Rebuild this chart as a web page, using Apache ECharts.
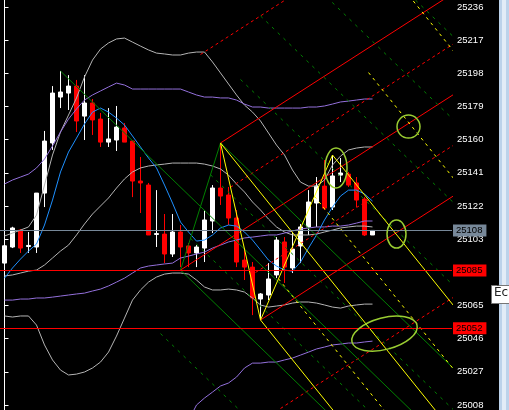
<!DOCTYPE html>
<html><head><meta charset="utf-8">
<script src="https://cdn.jsdelivr.net/npm/echarts@6/dist/echarts.min.js"></script>
<style>html,body{margin:0;padding:0;background:#000;overflow:hidden}#c{width:509px;height:410px}</style>
</head><body><div id="c"></div>
<script>
// ---- data (bar index, prices) ----
const barIndex = [0,1,2,3,4,5,6,7,8,9,10,11,12,13,14,15,16,17,18,19,20,21,22,23,24,25,26,27,28,29,30,31,32,33,34,35,36,37,38,39,40,41,42,43,44,45,46];
const openP = [25089.3,25098.5,25108.2,25098.8,25098.5,25129.4,25158.1,25184.4,25186.7,25190.7,25173.5,25181.0,25171.8,25158.6,25159.8,25166.7,25159.2,25136.3,25134.0,25105.7,25105.9,25094.5,25107.1,25099.1,25095.1,25097.9,25113.4,25132.3,25128.3,25115.1,25091.0,25087.0,25068.7,25071.0,25082.5,25101.4,25086.5,25099.1,25110.0,25123.7,25133.4,25121.4,25139.7,25140.3,25135.2,25126.0,25105.4];
const closeP = [25099.2,25109.4,25097.9,25099.4,25129.4,25159.2,25186.7,25187.3,25190.7,25170.7,25181.0,25171.3,25158.6,25160.4,25167.2,25158.6,25136.3,25135.2,25105.4,25106.2,25094.5,25107.1,25098.5,25095.1,25098.5,25114.0,25132.3,25127.7,25115.1,25089.9,25087.0,25069.3,25071.6,25080.2,25102.5,25087.0,25097.3,25110.0,25124.3,25133.4,25120.8,25139.2,25140.9,25134.0,25125.4,25105.4,25108.0];
const lowP = [25080.7,25097.9,25095.1,25095.1,25095.1,25121.4,25154.1,25178.1,25177.0,25164.4,25159.8,25162.7,25155.8,25155.8,25153.5,25158.6,25127.1,25118.0,25105.4,25098.5,25089.3,25092.8,25087.0,25087.0,25087.0,25089.9,25106.5,25122.6,25111.1,25087.0,25079.6,25059.5,25056.7,25068.1,25080.7,25077.9,25083.6,25089.3,25105.4,25110.0,25119.7,25119.7,25135.7,25132.9,25121.4,25104.8,25105.4];
const highP = [25101.0,25110.1,25108.8,25107.1,25129.4,25165.0,25190.7,25199.3,25197.0,25194.2,25197.0,25183.3,25175.3,25178.1,25179.3,25169.5,25159.2,25150.1,25135.2,25131.1,25117.4,25117.4,25111.1,25100.8,25099.6,25119.7,25134.0,25158.1,25132.9,25119.7,25097.9,25089.9,25072.1,25089.3,25104.2,25104.2,25106.5,25111.7,25131.1,25138.6,25148.3,25151.2,25149.5,25141.5,25138.6,25127.1,25108.0];

// fast moving average (blue)
const maFast = [25080.7,25086.5,25091.6,25096.2,25100.2,25111.1,25125.4,25141.5,25152.9,25160.9,25169.0,25175.8,25178.1,25175.8,25172.4,25168.4,25162.1,25155.8,25149.5,25143.8,25134.0,25123.7,25112.8,25107.1,25101.9,25102.5,25105.4,25109.4,25111.1,25110.5,25107.1,25102.5,25096.8,25091.0,25087.6,25085.3,25084.7,25089.9,25097.9,25105.4,25114.0,25121.4,25127.7,25131.1,25131.1,25128.9,25124.8];
// short bands (grey)
const bandUp = [25104.8,25106.5,25108.2,25110.0,25116.8,25134.0,25151.2,25164.4,25174.1,25183.9,25195.9,25205.6,25211.9,25215.4,25217.7,25218.2,25215.9,25213.6,25211.4,25209.6,25209.1,25208.5,25208.5,25209.6,25210.2,25210.2,25204.5,25198.2,25191.9,25185.6,25179.8,25175.8,25170.7,25163.8,25156.9,25151.2,25142.6,25135.7,25133.4,25133.4,25136.9,25145.5,25150.6,25154.1,25155.2,25155.8,25155.8];
const bandMid = [25081.9,25082.5,25083.6,25084.7,25085.3,25088.2,25092.2,25096.2,25099.6,25105.4,25111.7,25117.4,25122.0,25126.6,25132.3,25137.5,25141.5,25143.8,25144.9,25145.5,25146.0,25146.6,25146.6,25146.6,25146.6,25146.0,25144.9,25143.2,25139.7,25134.6,25130.0,25124.3,25119.7,25114.5,25110.0,25107.1,25105.4,25105.4,25105.4,25105.9,25107.1,25108.2,25109.4,25110.0,25110.5,25110.5,25110.0];
const bandLow = [25059.0,25058.4,25059.0,25059.0,25053.8,25042.4,25033.8,25028.0,25025.2,25025.7,25026.9,25029.2,25032.6,25038.3,25047.5,25057.8,25068.1,25073.9,25078.4,25081.3,25083.0,25083.6,25083.6,25083.0,25079.6,25075.6,25073.9,25073.9,25074.4,25073.9,25072.7,25069.3,25065.3,25064.1,25064.7,25065.3,25066.4,25067.0,25067.0,25066.4,25065.3,25064.1,25063.5,25064.7,25065.3,25065.8,25065.8];
// long bands (purple)
const longUp = [25134.6,25136.9,25138.6,25140.3,25143.8,25148.9,25156.4,25164.4,25171.8,25177.6,25182.7,25185.6,25187.9,25190.2,25192.4,25191.3,25189.0,25189.0,25189.0,25189.0,25189.0,25189.0,25189.0,25187.3,25185.6,25184.4,25184.4,25183.9,25183.9,25182.7,25180.4,25178.7,25178.7,25178.1,25178.1,25178.1,25178.1,25178.1,25178.7,25178.7,25179.3,25180.4,25181.6,25182.1,25182.7,25183.3,25183.3];
const longMid = [25068.1,25068.1,25068.7,25068.7,25069.3,25069.3,25069.8,25070.4,25071.0,25071.6,25072.1,25073.3,25074.4,25076.2,25078.4,25080.7,25083.6,25086.5,25087.6,25088.2,25088.8,25089.3,25092.2,25093.3,25094.5,25095.6,25097.9,25099.6,25101.4,25102.5,25103.7,25104.2,25104.8,25105.4,25105.4,25106.5,25107.7,25108.8,25109.4,25110.0,25110.0,25110.5,25110.5,25111.1,25112.2,25113.4,25113.4];
const longLow = [25002,25000,24998,24996,24994,24990,24983,24976,24969,24964,24962,24961,24961,24962,24964,24970,24978,24984,24986,24987,24988,24990,24995,24999,25008.0,25012.0,25015.4,25018.9,25020.6,25024.0,25029.2,25032.0,25032.0,25032.6,25032.6,25033.8,25034.9,25036.6,25038.3,25040.1,25041.2,25042.4,25042.9,25043.5,25043.5,25044.1,25044.6];

// axis ticks and price levels
const priceTicks = [25008,25027,25046,25065,25103,25122,25141,25160,25179,25198,25217,25236];
const bidPrice = 25108;
const redLevelPrices = [25085, 25052];

// pitchfork pivots [barIndex, price] and level multipliers
const redFork = [[22,25085.3],[27,25158.1],[32,25056.7]];
const redForkLevels = [2,1,0.5,-0.5,-1,-2];
const greenFork = [[7,25199.3],[22,25085.3],[27,25158.1]];
const greenForkLevels = [5,4,3,2,1,0.5,-0.5,-1,-2];
const yellowFork = [[27,25158.1],[32,25056.7],[41,25151.2]];
const yellowForkLevels = [3,2,1,0.5,-0.5,-1];
const greenSwing = [[22,25085.3],[27,25158.1]];
const yellowSwing = [[27,25158.1],[32,25056.7],[41,25151.2]];

// annotation rings: centers in [barIndex, price]
const ringAt = [[41.44,25143.8],[50.5,25167.5],[49.0,25105.9],[47.5,25048.9]];

// ---- styles ----
const ringSize = [[11,20,0],[11.5,11.5,0],[9.5,14,0],[33.6,15.8,14.7]];
const X_END = 60;

const chart = echarts.init(document.getElementById('c'), null, {renderer:'canvas'});

function lineSeries(data, color, z, dash) {
  return {type:'line', data:data, showSymbol:false, symbol:'none', silent:true, animation:false, clip:true,
    lineStyle:{color:color, width:1, type: dash || 'solid'}, z:z};
}
function seriesFrom(arr) { return barIndex.map((x,i)=>[x, arr[i]]); }

function forkSeries(piv, levels, color, dash) {
  const A = piv[0], B = piv[1], C = piv[2];
  const M = [(B[0]+C[0])/2, (B[1]+C[1])/2];
  const s = (M[1]-A[1])/(M[0]-A[0]);
  const med = x => A[1] + s*(x - A[0]);
  const w = Math.abs(B[1] - med(B[0]));
  const t = (C[1]-B[1])/(C[0]-B[0]);
  const out = [lineSeries([A, [X_END, med(X_END)]], color, 4)];
  levels.forEach(k => {
    const off = k*w;
    const x0 = (B[1] - t*B[0] - A[1] + s*A[0] - off)/(s - t);
    const y0 = med(x0) + off;
    out.push(lineSeries([[x0,y0],[X_END, med(X_END)+off]], color, 4, Math.abs(k)===1 ? 'solid' : dash));
  });
  return out;
}

const series = [];
series.push({
  type:'candlestick', animation:false, silent:true, z:2, barWidth:4,
  data: barIndex.map((x,i)=>[x, openP[i], closeP[i], lowP[i], highP[i]]),
  itemStyle:{color:'#ffffff', color0:'#ff0000', borderColor:'#ffffff', borderColor0:'#ff0000', borderWidth:1}
});
series.push(lineSeries(seriesFrom(bandUp), '#b4b4b4', 3));
series.push(lineSeries(seriesFrom(bandMid), '#b4b4b4', 3));
series.push(lineSeries(seriesFrom(bandLow), '#b4b4b4', 3));
series.push(lineSeries(seriesFrom(longUp), '#9370db', 3));
series.push(lineSeries(seriesFrom(longMid), '#9370db', 3));
series.push(lineSeries(seriesFrom(longLow), '#9370db', 3));
series.push(lineSeries(seriesFrom(maFast), '#1e90ff', 3));
forkSeries(redFork, redForkLevels, '#ff0000', [3,3]).forEach(s=>series.push(s));
forkSeries(greenFork, greenForkLevels, '#008000', [3,5]).forEach(s=>series.push(s));
forkSeries(yellowFork, yellowForkLevels, '#ffff00', [3,4]).forEach(s=>series.push(s));
series.push(lineSeries(greenSwing, '#008000', 4));
series.push(lineSeries(yellowSwing, '#ffff00', 4));

const boxLabel = (bg) => ({show:true, position:'end', distance:1, color:'#000', backgroundColor:bg,
  padding:[1,4,0,3], fontSize:9.5, fontFamily:'Liberation Sans', lineHeight:11,
  formatter: p => String(Math.round(p.value))});
series.push({
  type:'line', data:[], silent:true, animation:false, z:5,
  markLine:{symbol:'none', silent:true, animation:false, precision:0,
    data:[
      {yAxis:bidPrice, lineStyle:{color:'#778899', width:1, type:'solid'}, label:boxLabel('#778899')},
      {yAxis:redLevelPrices[0], lineStyle:{color:'#ff0000', width:1, type:'solid'}, label:boxLabel('#ff0000')},
      {yAxis:redLevelPrices[1], lineStyle:{color:'#ff0000', width:1, type:'solid'}, label:boxLabel('#ff0000')}
    ]}
});

chart.setOption({
  backgroundColor:'#000',
  animation:false,
  grid:{left:0, right:57, top:0, bottom:0, containLabel:false},
  xAxis:{type:'value', min:-0.5625, max:55.9375, show:false},
  yAxis:{type:'value', position:'right', min:25005.14, max:25240.01, scale:true,
    axisLine:{show:true, lineStyle:{color:'#ffffff', width:1}},
    axisTick:{show:true, length:4, inside:false, lineStyle:{color:'#ffffff'}, customValues:priceTicks},
    axisLabel:{show:true, color:'#ffffff', fontSize:9.5, fontFamily:'Liberation Sans', margin:5, customValues:priceTicks,
      formatter: v => String(v)},
    splitLine:{show:false}},
  series: series
});

// decorations: rings (positioned from data), scrollbar, tooltip
const g = [];
ringAt.forEach((c, i) => {
  const p = chart.convertToPixel({gridIndex:0}, c);
  const sz = ringSize[i];
  g.push({type:'ellipse', x:p[0], y:p[1], rotation: sz[2]*Math.PI/180, silent:true, z:20,
    shape:{cx:0, cy:0, rx:sz[0], ry:sz[1]}, style:{fill:'none', stroke:'#9acd32', lineWidth:1.5}});
});
g.push({type:'rect', left:499, top:0, silent:true, z:30, shape:{width:10, height:410}, style:{fill:'#bcd2ea'}});
g.push({type:'rect', left:502, top:0, silent:true, z:31, shape:{width:4, height:410}, style:{fill:'#e2ecf7'}});
g.push({type:'rect', left:491, top:285, silent:true, z:40, shape:{width:20, height:18}, style:{fill:'#ffffff', stroke:'#767676', lineWidth:1}});
g.push({type:'text', left:494, top:287, silent:true, z:41, style:{text:'Éc', fill:'#222', font:'12px "DejaVu Sans"'}});
chart.setOption({graphic:g});
</script>
</body></html>
